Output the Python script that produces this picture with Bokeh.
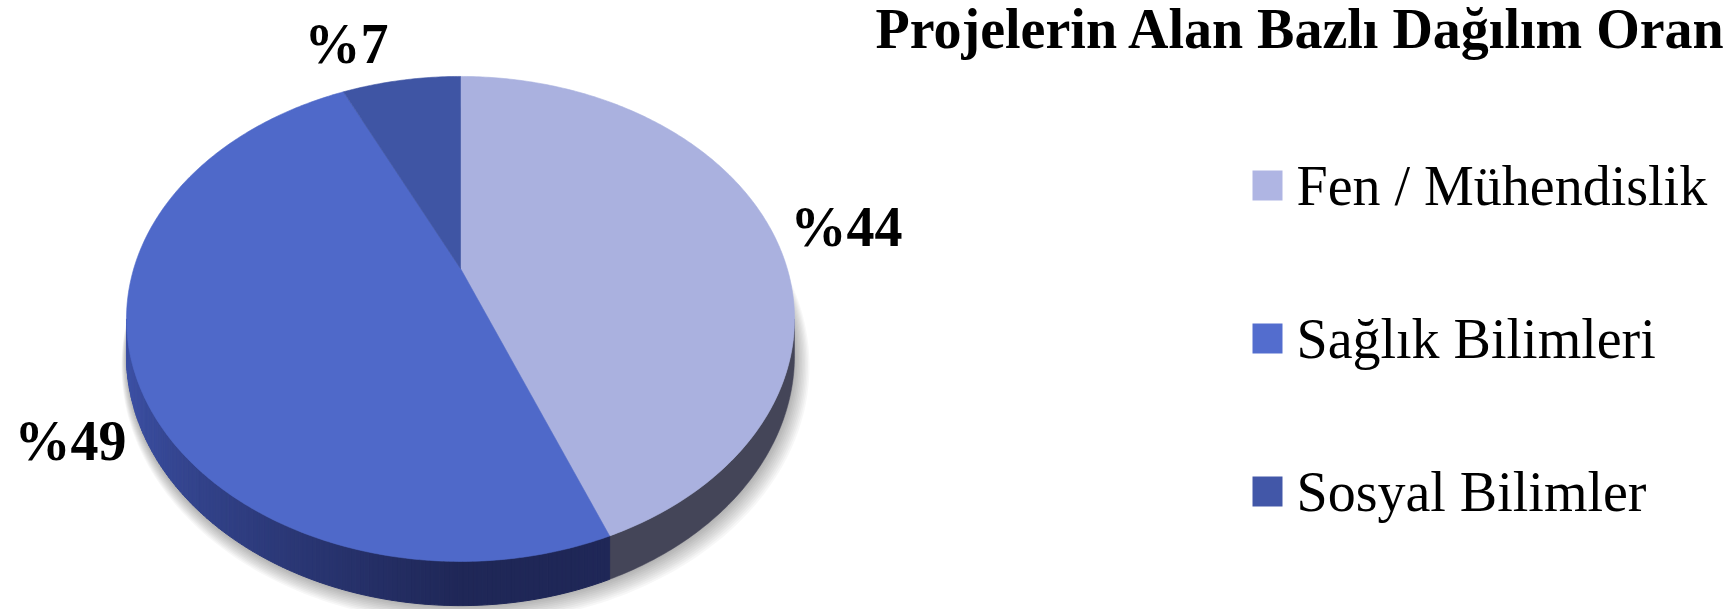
import numpy as np
from bokeh.plotting import figure
from bokeh.models import Range1d, ColumnDataSource
from bokeh.embed import file_html
from bokeh.resources import INLINE
from bokeh.core.properties import value

# ---------------- data ----------------
categories = ["Fen / Mühendislik", "Sağlık Bilimleri", "Sosyal Bilimler"]
shares = [44, 49, 7]
share_labels = ["%44", "%49", "%7"]
top_colors = ["#AAB1DF", "#4F69C9", "#3F55A4"]
legend_colors = ["#AFB5E3", "#536DCE", "#4257A8"]
title_text = "Projelerin Alan Bazlı Dağılım Oranı"

# ---------------- layout ----------------
W, H = 1724, 609
CX, CY = 460.0, 268.0      # projected pie centre (apex)
A, B = 326.7, 232.0        # projected radii
C = 0.208                  # perspective strength
D0 = 35.0                  # side depth
FONT = "Liberation Serif"
TDY = -17                  # text baseline correction
label_xy = [(846, 243), (70, 457), (346, 60)]
legend_x, legend_y0, legend_dy = 1267, 185, 153

p = figure(width=W, height=H, output_backend="svg", toolbar_location=None,
           x_range=Range1d(0, W), y_range=Range1d(H, 0),
           min_border=0, outline_line_color=None, background_fill_color="white",
           border_fill_color="white")
p.axis.visible = False
p.grid.visible = False


def proj(theta_deg, r=1.0):
    t = np.radians(theta_deg)
    X = r * np.sin(t)
    Z = r * np.cos(t)
    den = 1 + C * Z
    return CX + A * X / den, CY - B * Z / den, den


total = float(sum(shares))
ends = np.cumsum(shares) / total * 360.0
starts = np.concatenate([[0.0], ends[:-1]])

# ---------------- shadow ----------------
th = np.linspace(0, 360, 361)
sx, sy, sden = proj(th)
sy = sy + D0 / sden
for k in range(1, 11):
    xs = CX + (sx - CX) * (1 + 0.003 * k) + 0.5 * k
    ys = CY + (sy - CY) * (1 + 0.003 * k) + 0.8 * k
    p.patch(list(xs), list(ys), fill_color="#000000", fill_alpha=0.03, line_color=None)

# ---------------- sides ----------------
sil = np.degrees(np.arccos(-C))          # silhouette angle (~102 deg)
lo_lim, hi_lim = sil, 360 - sil
side_dark = np.array([0x1F, 0x27, 0x57])
side_light = np.array([0x3C, 0x50, 0xA4])
for i, (s, e) in enumerate(zip(starts, ends)):
    lo, hi = max(s, lo_lim), min(e, hi_lim)
    if lo >= hi:
        continue
    n = int((hi - lo) * 1.5) + 2
    tt = np.linspace(lo, hi, n)
    tx, ty, tden = proj(tt)
    by = ty + D0 / tden
    if i == 0:
        xs = list(tx) + list(tx[::-1])
        ys = list(ty) + list(by[::-1])
        p.patch(xs, ys, fill_color="#444558", line_color="#444558", line_width=0.5)
    else:
        xs_l, ys_l, cols = [], [], []
        for j in range(n - 1):
            xm = 0.5 * (tx[j] + tx[j + 1])
            t = np.clip((xm - 130) / 330.0, 0, 1) ** 0.7
            col = side_light + (side_dark - side_light) * t
            cols.append("#%02x%02x%02x" % tuple(int(round(v)) for v in col))
            xs_l.append([tx[j], tx[j + 1], tx[j + 1], tx[j]])
            ys_l.append([ty[j], ty[j + 1], by[j + 1], by[j]])
        p.patches(xs_l, ys_l, fill_color=cols, line_color=cols, line_width=1)

# ---------------- top faces ----------------
for i, (s, e) in enumerate(zip(starts, ends)):
    n = int((e - s) * 1.5) + 2
    tt = np.linspace(s, e, n)
    tx, ty, _ = proj(tt)
    xs = [CX] + list(tx)
    ys = [CY] + list(ty)
    p.patch(xs, ys, fill_color=top_colors[i], line_color=top_colors[i], line_width=0.6)

# ---------------- percentage labels ----------------
lab = ColumnDataSource(dict(x=[q[0] for q in label_xy], y=[q[1] + TDY for q in label_xy],
                            t=share_labels))
p.text(x="x", y="y", text="t", source=lab, text_font=value(FONT),
       text_font_style="bold", text_font_size="56px", text_align="center",
       text_baseline="alphabetic", text_color="#000000")

# ---------------- title ----------------
p.text(x=[875], y=[45 + TDY], text=[title_text], text_font=value(FONT),
       text_font_style="bold", text_font_size="56px", text_align="left",
       text_baseline="alphabetic", text_color="#000000")

# ---------------- legend ----------------
ly = [legend_y0 + k * legend_dy for k in range(len(categories))]
p.rect(x=[legend_x] * len(categories), y=ly, width=30, height=30,
       fill_color=legend_colors, line_color=None)
p.text(x=[legend_x + 29] * len(categories), y=[v + 17 + TDY for v in ly], text=categories,
       text_font=value(FONT), text_font_size="56px", text_align="left",
       text_baseline="alphabetic", text_color="#000000")

open("out.html", "w").write(file_html(p, INLINE))
